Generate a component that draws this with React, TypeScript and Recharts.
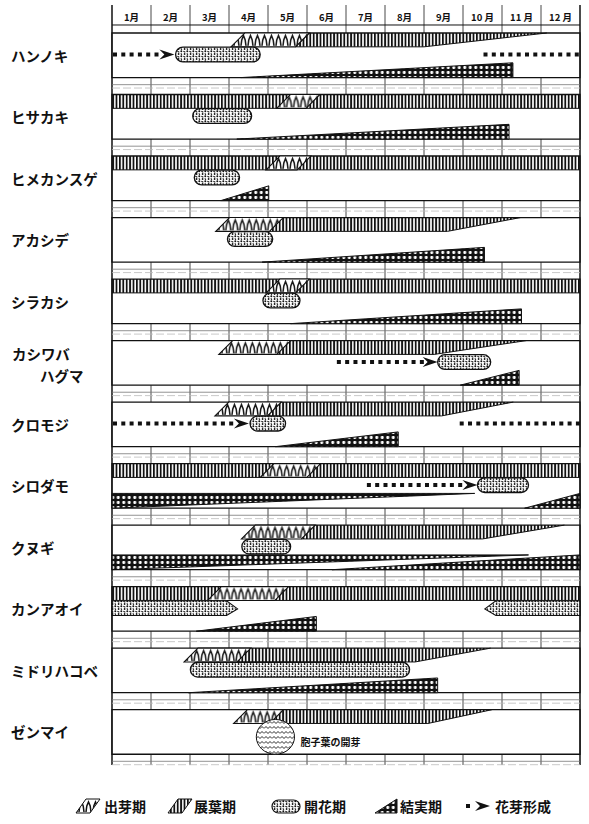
import React from 'react';
import {
  ComposedChart,
  XAxis,
  YAxis,
  CartesianGrid,
  ReferenceArea,
  ReferenceLine,
} from 'recharts';

// months: 0 = start of January, 12 = end of December
const months = ['1月', '2月', '3月', '4月', '5月', '6月', '7月', '8月', '9月', '10 月', '11 月', '12 月'];
const monthEdges = [0, 1, 2, 3, 4, 5, 6, 7, 8, 9, 10, 11, 12];
const monthCenters = [0.5, 1.5, 2.5, 3.5, 4.5, 5.5, 6.5, 7.5, 8.5, 9.5, 10.5, 11.5];

const species = [
  'ハンノキ', 'ヒサカキ', 'ヒメカンスゲ', 'アカシデ', 'シラカシ', 'カシワバハグマ',
  'クロモジ', 'シロダモ', 'クヌギ', 'カンアオイ', 'ミドリハコベ', 'ゼンマイ',
];

// 出芽期 [start, end]
const sprouting: [number, number][] = [
  [3.05, 5.06], [4.22, 5.33], [3.95, 5.1], [2.66, 4.39], [3.95, 5.06], [2.74, 4.58],
  [2.64, 4.34], [3.8, 5.35], [3.32, 5.21], [2.45, 4.53], [1.85, 3.56], [3.12, 4.4],
];
// 展葉期: null = leaves all year, otherwise [full until, tapers out at]
const leafing: ([number, number] | null)[] = [
  [8.0, 11.15], null, null, [8.6, 10.48], null, [8.26, 10.63],
  [8.45, 10.29], null, [9.5, 11.6], null, [7.77, 9.71], [8.1, 9.75],
];
// 開花期 [start, end]
const flowering: ([number, number] | null)[] = [
  [1.63, 3.8], [2.07, 3.58], [2.11, 3.27], [2.96, 4.12], [3.87, 4.82], [8.35, 9.71],
  [3.54, 4.45], [9.37, 10.68], [3.33, 4.58], null, [2.01, 7.63], null,
];
// 結実期 (growing wedge) [start, end]
const fruiting: ([number, number] | null)[] = [
  [3.3, 10.28], [3.2, 10.18], [2.79, 4.02], [3.85, 9.55], [4.58, 10.5], [8.93, 10.44],
  [4.19, 7.34], [10.58, 12], [5.64, 12], [2.16, 5.24], [1.96, 8.35], null,
];
// fruit carried over from the previous year: [row, end]
const fruitCarry: [number, number][] = [[7, 9.3], [8, 10.68]];
// 花芽形成: [row, start, end, arrow]
const budForming: [number, number, number, boolean][] = [
  [0, 0, 1.6, true], [0, 9.5, 12, false], [5, 5.74, 8.35, true],
  [6, 0, 3.51, true], [6, 8.89, 12, false], [7, 6.51, 9.37, true],
];
// flowering carried across the year end: [row, start, end, point]
const flowerCarry: [number, number, number, 'r' | 'l'][] = [[9, 0, 3.22, 'r'], [9, 9.56, 12, 'l']];
// 胞子葉の開芽: [row, start, end]
const sporeLeaf: [number, number, number] = [11, 3.7, 4.68];
const sporeLabel = '胞子葉の開芽';
const legendItems = ['出芽期', '展葉期', '開花期', '結実期', '花芽形成'];

// row layout in row units (one row = box + gap strip)
const BOX = 0.725;
const LEAF: [number, number] = [0, 0.225];
const BLOOM: [number, number] = [0.23, 0.47];
const FRUIT: [number, number] = [0.485, BOX];
const SPORE: [number, number] = [0.16, BOX];
const Y_DOMAIN: [number, number] = [-0.455, 11.9];
const HEADER_LINE = -0.13;
const LABEL_POS = 0.362;

const FONT = "'Noto Sans CJK JP', 'Noto Sans', sans-serif";
const INK = '#111';

const leafFull = (p: any) => {
  const { x, y, width: w, height: h } = p;
  return (
    <g>
      <rect x={x} y={y} width={w} height={h} fill="url(#stripes)" />
      <line x1={x} x2={x + w} y1={y + h} y2={y + h} stroke={INK} strokeWidth={1} />
    </g>
  );
};

const leafHead = (p: any) => {
  const { x, y, width: w, height: h } = p;
  return (
    <g>
      <polygon points={`${x - h},${y + h} ${x},${y} ${x + w},${y} ${x + w},${y + h}`} fill="url(#stripes)" />
      <path d={`M${x},${y} L${x - h},${y + h} L${x + w},${y + h}`} stroke={INK} strokeWidth={1} fill="none" />
    </g>
  );
};

const leafTaper = (p: any) => {
  const { x, y, width: w, height: h } = p;
  return (
    <g>
      <polygon points={`${x},${y} ${x + w},${y} ${x},${y + h}`} fill="url(#stripes)" />
      <path d={`M${x},${y + h} L${x + w},${y}`} stroke={INK} strokeWidth={1} fill="none" />
    </g>
  );
};

const sproutShape = (pid: string) => (p: any) => {
  const { x, y, width: w, height: h } = p;
  const s = Math.min(h, w / 2);
  return (
    <g>
      <defs>
        <pattern id={pid} x={x + 2} y={y} width={7} height={h} patternUnits="userSpaceOnUse">
          <rect width={7} height={h} fill="#fff" />
          <path
            d={`M1,${h - 1} L1.8,${h * 0.5} L3.5,${h * 0.18} L5.2,${h * 0.5} L6,${h - 1}`}
            stroke={INK}
            strokeWidth={1.5}
            fill="none"
          />
        </pattern>
      </defs>
      <polygon
        points={`${x},${y + h} ${x + s},${y} ${x + w},${y} ${x + w - s},${y + h}`}
        fill={`url(#${pid})`}
        stroke={INK}
        strokeWidth={1.1}
      />
    </g>
  );
};

const bloomShape = (p: any) => {
  const { x, y, width: w, height: h } = p;
  return (
    <rect x={x} y={y} width={w} height={h} rx={h / 2} ry={h / 2} fill="url(#bloom)" stroke={INK} strokeWidth={1.3} />
  );
};

const carryBloomShape = (dir: 'r' | 'l') => (p: any) => {
  const { x, y, width: w, height: h } = p;
  const t = 11;
  const pts = dir === 'r'
    ? `${x},${y} ${x + w - t},${y} ${x + w},${y + h * 0.55} ${x + w - t},${y + h} ${x},${y + h}`
    : `${x + w},${y} ${x + t},${y} ${x},${y + h * 0.55} ${x + t},${y + h} ${x + w},${y + h}`;
  return <polygon points={pts} fill="url(#bloom)" stroke={INK} strokeWidth={1.1} />;
};

const budShape = (arrow: boolean) => (p: any) => {
  const { x, y, width: w, height: h } = p;
  const cy = y + h / 2;
  const end = arrow ? x + w - 12 : x + w;
  return (
    <g>
      <line x1={x + 1} x2={end} y1={cy} y2={cy} stroke={INK} strokeWidth={4} strokeDasharray="4 4.3" />
      {arrow && (
        <polygon
          points={`${x + w},${cy} ${x + w - 15},${cy - 5} ${x + w - 10},${cy} ${x + w - 15},${cy + 5}`}
          fill={INK}
        />
      )}
    </g>
  );
};

const fruitGrow = (p: any) => {
  const { x, y, width: w, height: h } = p;
  return (
    <polygon points={`${x},${y + h} ${x + w},${y} ${x + w},${y + h}`} fill="url(#fruit)" stroke={INK} strokeWidth={1} />
  );
};

const fruitFade = (p: any) => {
  const { x, y, width: w, height: h } = p;
  return (
    <polygon points={`${x},${y} ${x + w},${y} ${x},${y + h}`} fill="url(#fruit)" stroke={INK} strokeWidth={1} />
  );
};

const sporeShape = (p: any) => {
  const { x, y, width: w, height: h } = p;
  return (
    <g>
      <ellipse cx={x + w / 2} cy={y + h / 2} rx={w / 2} ry={h / 2} fill="url(#wave)" stroke={INK} strokeWidth={1} />
      <text x={x + w + 6} y={y + h * 0.64} fontSize={10} fontWeight={600} fontFamily={FONT} fill={INK} dominantBaseline="central">
        {sporeLabel}
      </text>
    </g>
  );
};

const SpeciesTick = (p: any) => {
  const { y, payload } = p;
  const name = species[Math.round(payload.value - LABEL_POS)];
  if (!name) return null;
  if (name === 'カシワバハグマ') {
    return (
      <text fontSize={14.5} fontWeight={600} fontFamily={FONT} fill={INK} dominantBaseline="central">
        <tspan x={12} y={y - 10}>カシワバ</tspan>
        <tspan x={40} y={y + 12}>ハグマ</tspan>
      </text>
    );
  }
  return (
    <text x={11} y={y} fontSize={14.5} fontWeight={600} fontFamily={FONT} fill={INK} dominantBaseline="central">
      {name}
    </text>
  );
};

const MonthTick = (p: any) => {
  const { x, payload } = p;
  const i = Math.round(payload.value - 0.5);
  return (
    <text x={x} y={17} textAnchor="middle" dominantBaseline="central" fontSize={9.5} fontWeight={700} fontFamily={FONT} fill={INK}>
      {months[i]}
    </text>
  );
};

const Patterns = () => (
  <svg width={0} height={0} style={{ position: 'absolute' }}>
    <defs>
      <pattern id="stripes" width={3.4} height={10} patternUnits="userSpaceOnUse">
        <rect x={0} y={0} width={1.8} height={10} fill={INK} />
      </pattern>
      <pattern id="bloom" width={6} height={5} patternUnits="userSpaceOnUse">
        <rect width={6} height={5} fill="#fff" />
        <circle cx={1.3} cy={1.2} r={1} fill={INK} />
        <path d="M3.4,1.3 l1.9,1" stroke={INK} strokeWidth={1.1} />
        <circle cx={4.6} cy={4} r={0.9} fill={INK} />
        <path d="M0.8,3.4 l1.1,1.4" stroke={INK} strokeWidth={1.1} />
      </pattern>
      <pattern id="fruit" width={5.5} height={5} patternUnits="userSpaceOnUse">
        <rect width={5.5} height={5} fill={INK} />
        <rect x={1.3} y={1.1} width={2.9} height={2.8} rx={0.8} fill="#fff" />
      </pattern>
      <pattern id="wave" width={8} height={5} patternUnits="userSpaceOnUse">
        <rect width={8} height={5} fill="#fff" />
        <path d="M0,3.5 L2,1.5 L4,3.5 L6,1.5 L8,3.5" stroke={INK} strokeWidth={0.9} fill="none" />
      </pattern>
      <pattern id="sproutLegend" x={78} y={29} width={7} height={14} patternUnits="userSpaceOnUse">
        <rect width={7} height={14} fill="#fff" />
        <path d="M1,13 L1.8,7 L3.5,3 L5.2,7 L6,13" stroke={INK} strokeWidth={1.5} fill="none" />
      </pattern>
    </defs>
  </svg>
);

const Legend = () => (
  <svg width={589} height={54} style={{ position: 'absolute', left: 0, top: 770 }}>
    <polygon points="76,43 86,29 100,29 90,43" fill="url(#sproutLegend)" stroke={INK} strokeWidth={1} />
    <polygon points="168,43 178,29 192,29 182,43" fill="url(#stripes)" stroke={INK} strokeWidth={1} />
    <rect x={272} y={30} width={28} height={13} rx={6.5} fill="url(#bloom)" stroke={INK} strokeWidth={1.2} />
    <polygon points="375,43 397,29 397,43" fill="url(#fruit)" stroke={INK} strokeWidth={1} />
    <rect x={466} y={34} width={4} height={4} fill={INK} />
    <polygon points="490,36 475,31 480,36 475,41" fill={INK} />
    {legendItems.map((t, i) => (
      <text
        key={t}
        x={[104, 194, 304, 400, 495][i]}
        y={36}
        fontSize={14}
        fontWeight={600}
        fontFamily={FONT}
        fill={INK}
        dominantBaseline="central"
      >
        {t}
      </text>
    ))}
  </svg>
);

export default function App() {
  const data = monthCenters.map((m) => ({ m }));

  return (
    <div style={{ position: 'relative', width: 589, height: 824, background: '#fff', fontFamily: FONT }}>
      <style>{'body{margin:0}'}</style>
      <Patterns />
      <ComposedChart width={589} height={770} data={data} margin={{ top: 5, right: 9, bottom: 5, left: 0 }}>
        <XAxis
          xAxisId="g"
          type="number"
          dataKey="m"
          domain={[0, 12]}
          ticks={monthEdges}
          allowDataOverflow
          hide
        />
        <XAxis
          type="number"
          dataKey="m"
          domain={[0, 12]}
          ticks={monthCenters}
          interval={0}
          orientation="top"
          mirror
          allowDataOverflow
          axisLine={false}
          tickLine={false}
          tick={(p: any) => <MonthTick {...p} />}
        />
        <YAxis
          type="number"
          domain={Y_DOMAIN}
          reversed
          allowDataOverflow
          width={112}
          ticks={species.map((_, i) => i + LABEL_POS)}
          interval={0}
          axisLine={false}
          tickLine={false}
          tick={(p: any) => <SpeciesTick {...p} />}
        />
        <CartesianGrid xAxisId="g" horizontal={false} vertical stroke="#333" strokeWidth={0.9} />

        <ReferenceLine x={0} stroke={INK} strokeWidth={1.2} />
        <ReferenceLine x={12} stroke={INK} strokeWidth={1.2} />
        <ReferenceLine y={HEADER_LINE} stroke={INK} strokeWidth={1} />
        {species.map((_, i) => (
          <ReferenceLine key={`s1-${i}`} y={i + BOX + 0.115} stroke="#777" strokeWidth={0.8} />
        ))}
        {species.map((_, i) => (
          <ReferenceLine key={`s2-${i}`} y={i + BOX + 0.17} stroke="#bbb" strokeWidth={0.8} strokeDasharray="8 3" />
        ))}

        {species.map((_, i) => (
          <ReferenceArea
            key={`box-${i}`}
            x1={0}
            x2={12}
            y1={i}
            y2={i + BOX}
            fill="#fff"
            fillOpacity={1}
            stroke={INK}
            strokeWidth={1.3}
          />
        ))}

        {species.map((_, i) => {
          const lf = leafing[i];
          if (!lf) {
            return (
              <ReferenceArea key={`leaf-${i}`} x1={0} x2={12} y1={i + LEAF[0]} y2={i + LEAF[1]} shape={leafFull} />
            );
          }
          return [
            <ReferenceArea
              key={`leafh-${i}`}
              x1={sprouting[i][1]}
              x2={lf[0]}
              y1={i + LEAF[0]}
              y2={i + LEAF[1]}
              shape={leafHead}
            />,
            <ReferenceArea key={`leaft-${i}`} x1={lf[0]} x2={lf[1]} y1={i + LEAF[0]} y2={i + LEAF[1]} shape={leafTaper} />,
          ];
        })}

        {sprouting.map((s, i) => (
          <ReferenceArea
            key={`sprout-${i}`}
            x1={s[0]}
            x2={s[1]}
            y1={i + LEAF[0]}
            y2={i + LEAF[1]}
            shape={sproutShape(`sprout${i}`)}
          />
        ))}

        {fruitCarry.map(([row, end]) => (
          <ReferenceArea key={`fc-${row}`} x1={0} x2={end} y1={row + FRUIT[0]} y2={row + FRUIT[1]} shape={fruitFade} />
        ))}
        {fruiting.map((f, i) =>
          f ? (
            <ReferenceArea key={`fruit-${i}`} x1={f[0]} x2={f[1]} y1={i + FRUIT[0]} y2={i + FRUIT[1]} shape={fruitGrow} />
          ) : null,
        )}

        {budForming.map(([row, a, b, arrow], k) => (
          <ReferenceArea key={`bud-${k}`} x1={a} x2={b} y1={row + BLOOM[0]} y2={row + BLOOM[1]} shape={budShape(arrow)} />
        ))}

        {flowering.map((f, i) =>
          f ? (
            <ReferenceArea key={`bloom-${i}`} x1={f[0]} x2={f[1]} y1={i + BLOOM[0]} y2={i + BLOOM[1]} shape={bloomShape} />
          ) : null,
        )}
        {flowerCarry.map(([row, a, b, dir], k) => (
          <ReferenceArea key={`fcar-${k}`} x1={a} x2={b} y1={row + BLOOM[0]} y2={row + BLOOM[1]} shape={carryBloomShape(dir)} />
        ))}

        <ReferenceArea
          x1={sporeLeaf[1]}
          x2={sporeLeaf[2]}
          y1={sporeLeaf[0] + SPORE[0]}
          y2={sporeLeaf[0] + SPORE[1]}
          shape={sporeShape}
        />
      </ComposedChart>
      <Legend />
    </div>
  );
}
